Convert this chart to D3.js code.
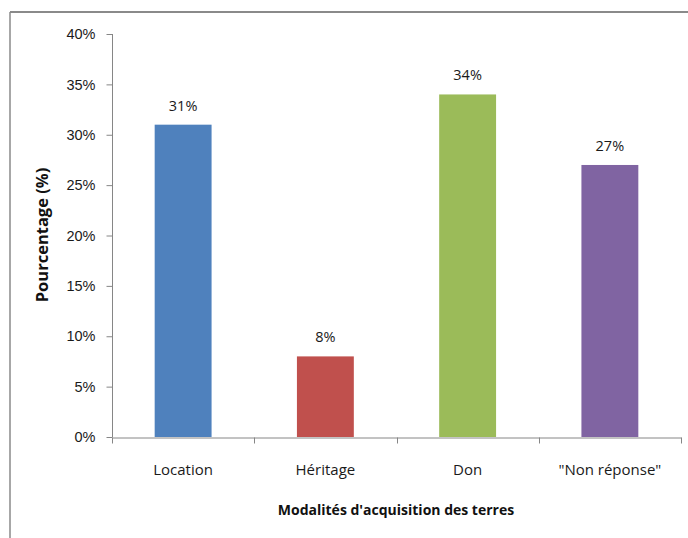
<!DOCTYPE html>
<html><head><meta charset="utf-8">
<script src="https://cdn.jsdelivr.net/npm/d3@7"></script>
<style>
html,body{margin:0;padding:0;background:#fff;}
svg{display:block;font-family:"Open Sans","Noto Sans",sans-serif;}
</style></head>
<body><svg id="c" width="688" height="538"></svg>
<script>
const categories = ["Location", "Héritage", "Don", "\"Non réponse\""];
const values = [31, 8, 34, 27];
const colors = ["#4F81BD", "#C0504D", "#9BBB59", "#8064A2"];
const yTicks = [0, 5, 10, 15, 20, 25, 30, 35, 40];
const xTitle = "Modalités d'acquisition des terres";
const yTitle = "Pourcentage (%)";

const svg = d3.select("#c");
// frame
svg.append("line").attr("x1",10).attr("y1",12).attr("x2",688).attr("y2",12).attr("stroke","#8a8a8a").attr("stroke-width",2);
svg.append("line").attr("x1",10).attr("y1",12).attr("x2",10).attr("y2",538).attr("stroke","#8a8a8a").attr("stroke-width",1.5);

const pL = 112, pR = 681, pT = 34, pB = 437;
const x = d3.scaleBand().domain(categories).range([pL, pR]).padding(0);
const y = d3.scaleLinear().domain([0, 40]).range([pB, pT]);

const bw = x.bandwidth() * 0.4;
svg.selectAll("rect.bar").data(values).enter().append("rect")
  .attr("class","bar")
  .attr("x",(d,i)=>x(categories[i]) + x.bandwidth()/2 - bw/2)
  .attr("width",bw)
  .attr("y",d=>y(d))
  .attr("height",d=>y(0)-y(d))
  .attr("fill",(d,i)=>colors[i]);

// y axis
const yAxis = d3.axisLeft(y).tickValues(yTicks).tickFormat(d=>d+"%").tickSize(6).tickPadding(11);
const gy = svg.append("g").attr("transform",`translate(${pL+0.5},0)`).call(yAxis);
gy.select(".domain").attr("stroke","#868686").attr("d",`M0,${pT}V${pB}`);
gy.selectAll(".tick line").attr("stroke","#868686");
gy.selectAll(".tick text").attr("fill","#1a1a1a").style("font-size","14.5px");

// x axis
const xAxis = d3.axisBottom(x).tickValues([]).tickSize(0);
const gx = svg.append("g").attr("transform",`translate(0,${pB+0.5})`).call(xAxis);
gx.select(".domain").attr("stroke","#868686");
const bounds = categories.map(c=>x(c)).concat([pR]);
gx.selectAll("line.bt").data(bounds).enter().append("line").attr("class","bt")
  .attr("x1",d=>Math.round(d)+0.5).attr("x2",d=>Math.round(d)+0.5).attr("y1",0).attr("y2",6).attr("stroke","#868686");
svg.selectAll("text.cat").data(categories).enter().append("text").attr("class","cat")
  .attr("x",d=>x(d)+x.bandwidth()/2).attr("y",475)
  .attr("text-anchor","middle").attr("fill","#1a1a1a").style("font-size","15px")
  .text(d=>d);

// value labels
svg.selectAll("text.val").data(values).enter().append("text").attr("class","val")
  .attr("x",(d,i)=>x(categories[i])+x.bandwidth()/2).attr("y",d=>y(d)-14)
  .attr("text-anchor","middle").attr("fill","#1a1a1a").style("font-size","14.5px")
  .text(d=>d+"%");

// titles
svg.append("text").attr("x",396).attr("y",515).attr("text-anchor","middle")
  .style("font-size","14px").style("font-weight","bold").attr("fill","#111").text(xTitle);
svg.append("text").attr("transform","translate(48,235) rotate(-90)").attr("text-anchor","middle")
  .style("font-size","16.5px").style("font-weight","bold").attr("fill","#111").text(yTitle);
</script></body></html>
